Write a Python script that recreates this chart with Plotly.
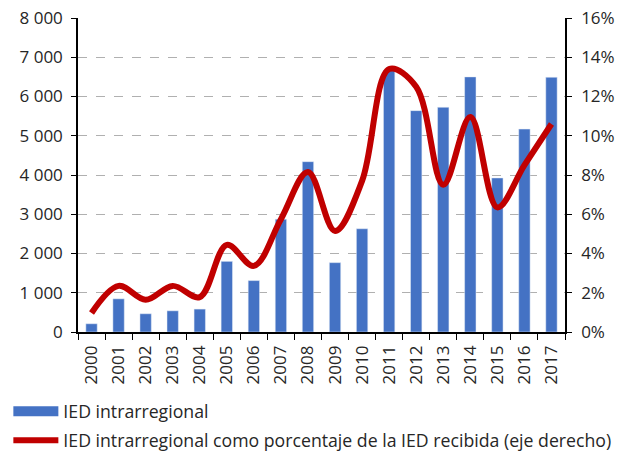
import plotly.graph_objects as go

years = [str(y) for y in range(2000, 2018)]
ied = [210, 845, 465, 540, 584, 1800, 1310, 2875, 4340, 1767,
       2630, 6675, 5640, 5725, 6500, 3925, 5170, 6490]
pct = [0.97, 2.35, 1.64, 2.35, 1.78, 4.44, 3.37, 5.75, 8.15, 5.15,
       7.7, 13.4, 12.5, 7.5, 10.95, 6.35, 8.5, 10.6]

blue = '#4472C4'
red = '#C00000'

fig = go.Figure()

fig.add_trace(go.Bar(
    x=years, y=ied, width=0.42,
    marker=dict(color=blue),
    showlegend=False,
))

# legend entry for the bars drawn as a thick line (Excel-style wide swatch)
fig.add_trace(go.Scatter(
    x=[None], y=[None], mode='lines',
    line=dict(color=blue, width=10),
    name='IED intrarregional', legendgroup='a',
))

fig.add_trace(go.Scatter(
    x=years, y=pct, yaxis='y2', mode='lines',
    line=dict(color=red, width=6, shape='spline', smoothing=1),
    name='IED intrarregional como porcentaje de la IED recibida (eje derecho)',
    legendgroup='b',
))

# page body has an 8px margin, so the figure is 8px smaller than the window
fig.update_layout(
    width=617, height=443,
    plot_bgcolor='white', paper_bgcolor='white',
    separators='. ',
    font=dict(family='Open Sans', size=17, color='#262626'),
    margin=dict(l=70, r=60, t=10, b=119, autoexpand=False),
    xaxis=dict(
        type='category', automargin=False,
        tickangle=-90, ticklabelstandoff=5,
        showline=True, linecolor='black', linewidth=1.5,
        ticks='outside', tickson='boundaries', ticklen=6, tickcolor='black',
        showgrid=False,
    ),
    yaxis=dict(
        range=[0, 8000], dtick=1000, tickformat=',d', automargin=False,
        ticklabelstandoff=5, ticklabeloverflow='allow',
        showline=True, linecolor='black', linewidth=1.5,
        ticks='outside', ticklen=5, tickcolor='black',
        showgrid=True, gridcolor='#b0b0b0', griddash='dash', gridwidth=1,
        zeroline=False,
    ),
    yaxis2=dict(
        overlaying='y', side='right', automargin=False,
        range=[0, 16], dtick=2, ticksuffix='%', ticklabelstandoff=6,
        ticklabeloverflow='allow',
        showline=True, linecolor='black', linewidth=1.5,
        ticks='outside', ticklen=5, tickcolor='black',
        showgrid=False, zeroline=False,
    ),
    legend=dict(
        orientation='v',
        x=-0.143, xanchor='left',
        y=-0.195, yanchor='top',
        itemwidth=45,
        tracegroupgap=3,
        font=dict(size=17.7),
    ),
)

fig.write_html("out.html")
